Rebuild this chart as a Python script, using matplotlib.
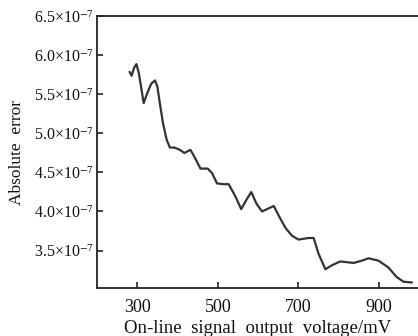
import matplotlib.pyplot as plt
import numpy as np
from matplotlib.ticker import FuncFormatter

plt.rcParams['font.family'] = ['Liberation Serif', 'DejaVu Serif']
plt.rcParams['mathtext.fontset'] = 'stix'

voltage = [281, 286, 292, 298, 304, 310, 316, 325, 335, 344, 350, 356, 364, 373,
           381, 392, 406, 417, 432, 442, 457, 475, 486, 498, 515, 527, 544, 558,
           571, 583, 596, 610, 626, 639, 653, 668, 684, 700, 725, 738, 750, 767,
           783, 804, 837, 858, 874, 899, 924, 944, 961, 982]
error = [5.79, 5.74, 5.84, 5.89, 5.77, 5.58, 5.39, 5.52, 5.64, 5.68, 5.60, 5.39,
         5.13, 4.92, 4.82, 4.82, 4.79, 4.75, 4.79, 4.70, 4.55, 4.55, 4.49, 4.36,
         4.35, 4.35, 4.19, 4.03, 4.15, 4.25, 4.10, 4.00, 4.04, 4.07, 3.93, 3.79,
         3.69, 3.64, 3.66, 3.66, 3.46, 3.26, 3.31, 3.36, 3.34, 3.37, 3.40, 3.37,
         3.28, 3.16, 3.10, 3.09]
xticks = [300, 500, 700, 900]
yticks = [3.5, 4.0, 4.5, 5.0, 5.5, 6.0, 6.5]

fig = plt.figure(figsize=(4.18, 3.36), dpi=100)
ax = fig.add_axes([0.232, 0.143, 0.768, 0.808])

ax.plot(voltage, np.array(error) * 1e-7, color='#333333', lw=1.6,
        solid_joinstyle='round', solid_capstyle='round')

ax.set_xlim(200, 997)
ax.set_ylim(3.02e-7, 6.5e-7)
ax.set_xticks(xticks)
ax.set_yticks(np.array(yticks) * 1e-7)
ax.yaxis.set_major_formatter(FuncFormatter(lambda v, p: '%.1f×10$^{-7}$' % (v * 1e7)))
ax.tick_params(direction='in', length=4, width=1.2, color='#222222', labelcolor='#111111')
ax.tick_params(axis='x', labelsize=13, pad=8)
ax.tick_params(axis='y', labelsize=11.5, pad=2)
ax.spines['right'].set_visible(False)
for s in ['left', 'top', 'bottom']:
    ax.spines[s].set_linewidth(1.3)
    ax.spines[s].set_color('#222222')

ax.set_xlabel('On-line  signal  output  voltage/mV', fontsize=13.5, labelpad=3, color='#111111')
ax.set_ylabel('Absolute  error', fontsize=12.5, color='#111111')
ax.yaxis.set_label_coords(-0.225, 0.5)

fig.savefig('out.png', dpi=100)
